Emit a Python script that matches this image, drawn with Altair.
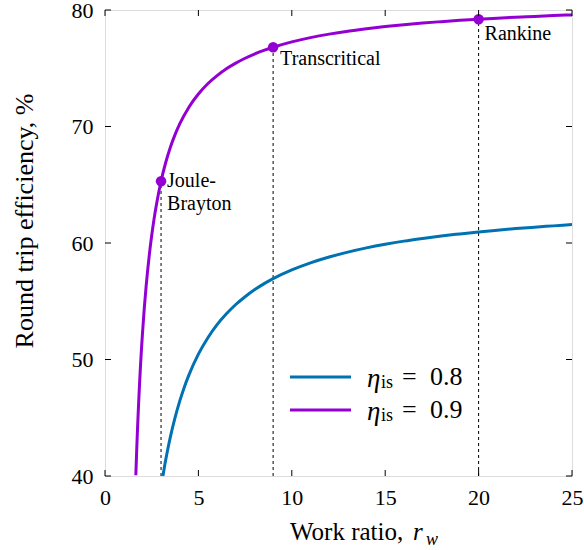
import altair as alt
import pandas as pd

# ---- data ----
x_eta09 = [1.65, 1.7, 1.75, 1.8, 1.85, 1.9, 1.95, 2.0, 2.1, 2.2, 2.375, 2.5, 2.625, 2.75, 3, 3.25, 3.5, 3.75, 4,
           4.5, 5, 5.5, 6, 6.5, 7, 7.5, 8, 8.5, 9, 10, 11, 12, 13, 14, 15, 16, 17, 18, 19, 20, 21, 22, 23, 24, 25]
y_eta09 = [40.06, 42.36, 44.41, 46.26, 47.93, 49.45, 50.83, 52.10, 54.34, 56.26, 59.03, 60.65, 62.05, 63.27, 65.30,
           66.91, 68.22, 69.30, 70.22, 71.68, 72.79, 73.67, 74.37, 74.96, 75.44, 75.86, 76.22, 76.53, 76.80,
           77.26, 77.63, 77.93, 78.18, 78.39, 78.58, 78.74, 78.88, 79.00, 79.11, 79.21, 79.30, 79.38, 79.45,
           79.52, 79.58]
x_eta08 = [3.1, 3.2, 3.35, 3.5, 3.75, 4, 4.25, 4.5, 5, 5.5, 6, 6.5, 7, 7.5, 8, 8.5, 9, 10, 11, 12, 13, 14, 15,
           16, 17, 18, 19, 20, 21, 22, 23, 24, 25]
y_eta08 = [40.00, 40.94, 42.21, 43.36, 45.02, 46.43, 47.65, 48.70, 50.46, 51.85, 52.99, 53.92, 54.72, 55.39,
           55.98, 56.49, 56.94, 57.69, 58.30, 58.80, 59.22, 59.58, 59.89, 60.16, 60.39, 60.60, 60.78, 60.95,
           61.10, 61.24, 61.36, 61.47, 61.58]

key_x = [3, 9, 20]
key_y = [65.3, 76.8, 79.2]
key_names = ["Joule-\nBrayton", "Transcritical", "Rankine"]

x_ticks = [0, 5, 10, 15, 20, 25]
y_ticks = [40, 50, 60, 70, 80]

legend_values = ["0.8", "0.9"]

BLUE = "#0072B2"
PURPLE = "#9400D3"
FONT = "Liberation Serif"
W, H = 467, 466

curves = pd.DataFrame({
    "x": x_eta08 + x_eta09,
    "y": y_eta08 + y_eta09,
    "s": ["0.8"] * len(x_eta08) + ["0.9"] * len(x_eta09),
})
keys = pd.DataFrame({"x": key_x, "y": key_y, "base": [40] * len(key_x), "name": key_names})

xs = alt.Scale(domain=[0, 25], nice=False, zero=False)
ys = alt.Scale(domain=[40, 80], nice=False, zero=False)

xaxis = alt.Axis(values=x_ticks, tickSize=0, domain=False, grid=False, labelFont=FONT,
                 labelFontSize=22, labelColor="black", labelPadding=11, labelFlush=False, title=None)
yaxis = alt.Axis(values=y_ticks, tickSize=0, domain=False, grid=False, labelFont=FONT,
                 labelFontSize=22, labelColor="black", labelPadding=12, labelFlush=False, title=None)

lines = alt.Chart(curves).mark_line(strokeWidth=3, clip=True, interpolate="monotone").encode(
    x=alt.X("x:Q", scale=xs, axis=xaxis),
    y=alt.Y("y:Q", scale=ys, axis=yaxis),
    color=alt.Color("s:N", scale=alt.Scale(domain=["0.8", "0.9"], range=[BLUE, PURPLE]), legend=None),
)

drops = alt.Chart(keys).mark_rule(color="black", strokeWidth=1, strokeDash=[3, 3]).encode(
    x=alt.X("x:Q", scale=xs), y=alt.Y("base:Q", scale=ys), y2="y:Q"
)

dots = alt.Chart(keys).mark_point(filled=True, size=110, color=PURPLE, opacity=1).encode(
    x=alt.X("x:Q", scale=xs), y=alt.Y("y:Q", scale=ys)
)

def label(i, dx, dy):
    d = keys.iloc[[i]]
    return alt.Chart(d).mark_text(align="left", baseline="middle", dx=dx, dy=dy, font=FONT,
                                  fontSize=20, color="black", lineBreak="\n", lineHeight=23).encode(
        x=alt.X("x:Q", scale=xs), y=alt.Y("y:Q", scale=ys), text="name:N")

labels = [label(0, 6, 0), label(1, 7, 12), label(2, 6, 15)]

# inner ticks
tdx = pd.DataFrame({"t": x_ticks})
tdy = pd.DataFrame({"t": y_ticks})
tick_style = dict(color="black", strokeWidth=1)
xt_b = alt.Chart(tdx).mark_rule(**tick_style).encode(x=alt.X("t:Q", scale=xs), y=alt.value(H), y2=alt.value(H - 6))
xt_t = alt.Chart(tdx).mark_rule(**tick_style).encode(x=alt.X("t:Q", scale=xs), y=alt.value(0), y2=alt.value(6))
yt_l = alt.Chart(tdy).mark_rule(**tick_style).encode(y=alt.Y("t:Q", scale=ys), x=alt.value(0), x2=alt.value(6))
yt_r = alt.Chart(tdy).mark_rule(**tick_style).encode(y=alt.Y("t:Q", scale=ys), x=alt.value(W), x2=alt.value(W - 6))

# legend (manual, for subscripts)
leg = []
for val, col, ly in zip(legend_values, [BLUE, PURPLE], [367, 400]):
    d = pd.DataFrame({"v": [val]})
    leg.append(alt.Chart(d).mark_rule(color=col, strokeWidth=3).encode(
        x=alt.value(185), x2=alt.value(246), y=alt.value(ly)))
    leg.append(alt.Chart(d).mark_text(align="left", baseline="middle", font=FONT, fontSize=27,
                                      fontStyle="italic", color="black", text="η").encode(
        x=alt.value(262), y=alt.value(ly + 2)))
    leg.append(alt.Chart(d).mark_text(align="left", baseline="middle", font=FONT, fontSize=18,
                                      color="black", text="is").encode(
        x=alt.value(276), y=alt.value(ly + 6)))
    leg.append(alt.Chart(d).mark_text(align="left", baseline="middle", font=FONT, fontSize=26,
                                      color="black", text="=").encode(
        x=alt.value(297), y=alt.value(ly)))
    leg.append(alt.Chart(d).mark_text(align="left", baseline="middle", font=FONT, fontSize=26,
                                      color="black").encode(
        x=alt.value(325), y=alt.value(ly), text="v:N"))

# axis titles
one = pd.DataFrame({"a": [0]})
xt1 = alt.Chart(one).mark_text(align="left", baseline="alphabetic", font=FONT, fontSize=25,
                               color="black", text="Work ratio,").encode(x=alt.value(185), y=alt.value(530))
xt2 = alt.Chart(one).mark_text(align="left", baseline="alphabetic", font=FONT, fontSize=25,
                               fontStyle="italic", color="black", text="r").encode(x=alt.value(308), y=alt.value(530))
xt3 = alt.Chart(one).mark_text(align="left", baseline="alphabetic", font=FONT, fontSize=18,
                               fontStyle="italic", color="black", text="w").encode(x=alt.value(321), y=alt.value(535))
yt = alt.Chart(one).mark_text(align="center", baseline="alphabetic", font=FONT, fontSize=26, angle=270,
                              color="black", text="Round trip efficiency, %").encode(x=alt.value(-72), y=alt.value(211))

chart = alt.layer(
    drops, lines, dots, *labels, xt_b, xt_t, yt_l, yt_r, *leg, xt1, xt2, xt3, yt
).properties(
    width=W, height=H,
    autosize=alt.AutoSizeParams(type="none"),
    padding={"left": 105, "top": 10, "right": 12, "bottom": 74},
).configure_view(stroke="black", strokeWidth=1.3).configure(background="white")

chart.save("out.html", embed_options={"renderer": "svg", "actions": False})
